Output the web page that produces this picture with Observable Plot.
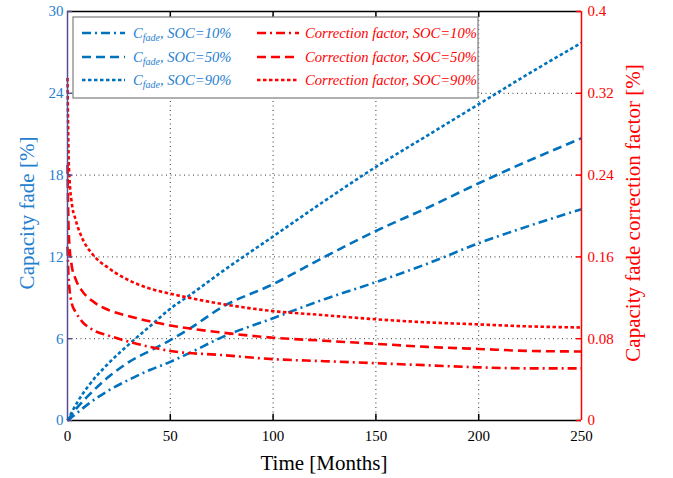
<!DOCTYPE html>
<html>
<head>
<meta charset="utf-8">
<script src="https://cdn.jsdelivr.net/npm/d3@7"></script>
<script src="https://cdn.jsdelivr.net/npm/@observablehq/plot@0.6"></script>
<style>
body { margin: 0; background: #fff; }
</style>
</head>
<body>
<script>
// ---- data ----
const months = [0, 5, 10, 20, 30, 40, 50, 60, 75, 100, 125, 150, 175, 200, 225, 250];
const fadeSoc10 = [0, 0.6, 1.2, 2.2, 3.0, 3.7, 4.3, 5.0, 6.1, 7.5, 8.9, 10.15, 11.5, 13.0, 14.3, 15.5];
const fadeSoc50 = [0, 1.0, 1.8, 3.2, 4.3, 5.1, 5.9, 6.8, 8.3, 10.0, 12.0, 13.9, 15.6, 17.4, 19.1, 20.7];
const fadeSoc90 = [0, 1.4, 2.5, 4.2, 5.6, 6.9, 8.2, 9.25, 10.9, 13.5, 16.1, 18.6, 20.9, 23.2, 25.5, 27.7];

const corrMonths = [0, 0.5, 1, 2, 4, 7, 12, 20, 30, 40, 50, 75, 100, 125, 150, 175, 200, 225, 250];
const corrSoc10 = [0.170, 0.140, 0.128, 0.115, 0.106, 0.097, 0.089, 0.083, 0.077, 0.072, 0.068, 0.064, 0.060, 0.058, 0.056, 0.054, 0.052, 0.051, 0.051];
const corrSoc50 = [0.250, 0.190, 0.170, 0.152, 0.138, 0.127, 0.117, 0.108, 0.102, 0.097, 0.093, 0.086, 0.081, 0.078, 0.075, 0.072, 0.070, 0.068, 0.0675];
const corrSoc90 = [0.335, 0.262, 0.236, 0.214, 0.196, 0.179, 0.163, 0.149, 0.137, 0.129, 0.124, 0.114, 0.107, 0.103, 0.099, 0.096, 0.094, 0.092, 0.091];

const xTicks = [0, 50, 100, 150, 200, 250];
const yLeftTicks = [0, 6, 12, 18, 24, 30];
const yRightTicks = [0, 0.08, 0.16, 0.24, 0.32, 0.4];
const yRightLabels = ["0", "0.08", "0.16", "0.24", "0.32", "0.4"];

const legendLabels = ["SOC=10%", "SOC=50%", "SOC=90%"];

// ---- build ----
const FONT = "'Liberation Serif', 'Times New Roman', serif";
const BLUE = "#0072BD", BLUE_TXT = "#1f80d0", RED = "#ff0000", PURPLE = "#5a4e92";
const rightMax = 0.4, leftMax = 30, k = leftMax / rightMax;

const dashes = ["9,4,2,4", "9,5", "3.5,2.5"];
const fadeSeries = [fadeSoc10, fadeSoc50, fadeSoc90].map(v => months.map((m, i) => ({m, v: v[i]})));
const corrSeries = [corrSoc10, corrSoc50, corrSoc90].map(v => corrMonths.map((m, i) => ({m, v: v[i] * k})));

const lineOpts = (stroke, i) => ({x: "m", y: "v", stroke, strokeWidth: 2.6, strokeDasharray: dashes[i],
  strokeLinecap: "butt", strokeLinejoin: "round", curve: "monotone-x"});

const W = 673, H = 478;
const chart = Plot.plot({
  width: W, height: H,
  marginLeft: 67, marginRight: 92, marginTop: 11, marginBottom: 58,
  x: {domain: [0, 250]},
  y: {domain: [0, 30]},
  style: {fontFamily: FONT, fontSize: "15px", background: "white"},
  marks: [
    Plot.ruleX(xTicks.slice(1, -1), {stroke: "#333", strokeDasharray: "1,3.5", strokeWidth: 1}),
    Plot.ruleY(yLeftTicks.slice(1, -1), {stroke: "#333", strokeDasharray: "1,3.5", strokeWidth: 1}),
    ...fadeSeries.map((d, i) => Plot.line(d, lineOpts(BLUE, i))),
    ...corrSeries.map((d, i) => Plot.line(d, lineOpts(RED, i))),
    // frame lines
    Plot.ruleY([0], {stroke: "black", strokeWidth: 1.5}),
    Plot.ruleY([30], {stroke: "black", strokeWidth: 1.5}),
    Plot.ruleX([0], {stroke: PURPLE, strokeWidth: 1.5}),
    Plot.ruleX([250], {stroke: RED, strokeWidth: 1.5}),
    // inward ticks
    Plot.ruleX(xTicks.slice(1, -1), {y1: 0, y2: 0.45, stroke: "black", strokeWidth: 1.5}),
    Plot.ruleX(xTicks.slice(1, -1), {y1: 30, y2: 29.55, stroke: "black", strokeWidth: 1.5}),
    Plot.ruleY(yLeftTicks, {x1: 0, x2: 2.5, stroke: PURPLE, strokeWidth: 1.5}),
    Plot.ruleY(yLeftTicks, {x1: 250, x2: 247.5, stroke: RED, strokeWidth: 1.5}),
    // tick labels
    Plot.axisX(xTicks, {anchor: "bottom", tickSize: 0, tickPadding: 10, fontSize: 15, color: "black", label: null}),
    Plot.axisY(yLeftTicks, {anchor: "left", tickSize: 0, tickPadding: 4, fontSize: 15, color: BLUE_TXT, label: null}),
    Plot.axisY(yLeftTicks, {anchor: "right", tickSize: 0, tickPadding: 6, fontSize: 15, color: RED, label: null,
      tickFormat: d => yRightLabels[yLeftTicks.indexOf(d)]})
  ]
});
document.body.appendChild(chart);

// ---- titles & legend ----
const svg = d3.select(chart);
svg.append("text").attr("x", 324).attr("y", 470).attr("text-anchor", "middle")
  .attr("font-size", 21).attr("fill", "black").text("Time [Months]");
svg.append("text").attr("transform", "translate(34,213) rotate(-90)").attr("text-anchor", "middle")
  .attr("font-size", 21).attr("fill", BLUE_TXT).text("Capacity fade [%]");
svg.append("text").attr("transform", "translate(640,213) rotate(-90)").attr("text-anchor", "middle")
  .attr("font-size", 21).attr("fill", RED).text("Capacity fade correction factor [%]");

const lg = svg.append("g");
lg.append("rect").attr("x", 73).attr("y", 17).attr("width", 405).attr("height", 81)
  .attr("fill", "white").attr("stroke", "#888").attr("stroke-width", 1.3);
const rowsY = [33, 57, 80];
legendLabels.forEach((lab, i) => {
  const y = rowsY[i];
  lg.append("line").attr("x1", 82).attr("x2", 125).attr("y1", y).attr("y2", y)
    .attr("stroke", BLUE).attr("stroke-width", 2.6).attr("stroke-dasharray", dashes[i]);
  const t = lg.append("text").attr("x", 133).attr("y", y + 5).attr("font-size", 14.6)
    .attr("text-anchor", "start").attr("font-style", "italic").attr("fill", BLUE_TXT);
  t.append("tspan").text("C");
  t.append("tspan").attr("font-size", 10).attr("dy", 3).text("fade");
  t.append("tspan").attr("dy", -3).text(", " + lab);
  lg.append("line").attr("x1", 257).attr("x2", 299).attr("y1", y).attr("y2", y)
    .attr("stroke", RED).attr("stroke-width", 2.6).attr("stroke-dasharray", dashes[i]);
  lg.append("text").attr("x", 305).attr("y", y + 5).attr("font-size", 14.6)
    .attr("text-anchor", "start").attr("font-style", "italic").attr("fill", RED).text("Correction factor, " + lab);
});
// force the serif face on every text node
svg.selectAll("text").style("font-family", FONT);
</script>
</body>
</html>
